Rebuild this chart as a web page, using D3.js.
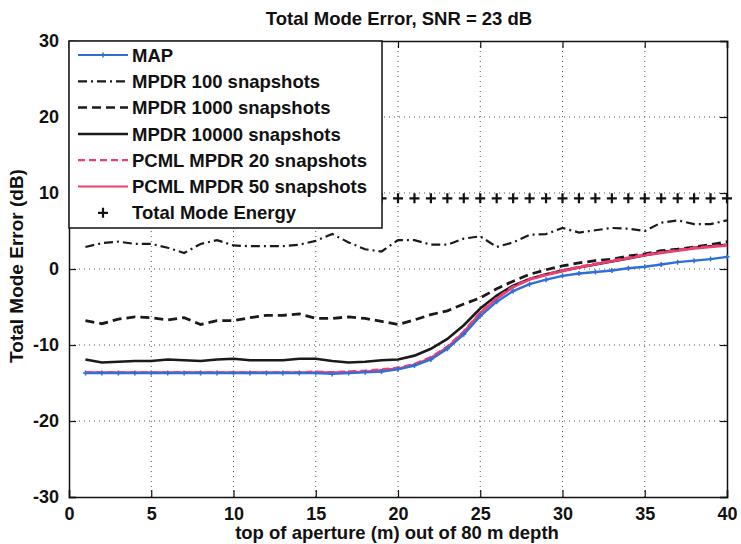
<!DOCTYPE html>
<html><head><meta charset="utf-8">
<script src="https://cdn.jsdelivr.net/npm/d3@7"></script>
<style>body{margin:0;background:#fff}svg{display:block}text{font-family:"Liberation Sans",Arial,sans-serif}</style>
</head><body><svg id="c" width="741" height="544"></svg>
<script>
const apertureTop = d3.range(1, 41);
const mapErr = [-13.7,-13.7,-13.7,-13.7,-13.7,-13.7,-13.7,-13.7,-13.7,-13.7,-13.7,-13.7,-13.7,-13.7,-13.7,-13.8,-13.7,-13.6,-13.5,-13.2,-12.7,-11.9,-10.5,-8.6,-6.2,-4.3,-2.9,-2.0,-1.4,-0.9,-0.6,-0.4,-0.2,0.1,0.3,0.6,0.9,1.1,1.3,1.6];
const mpdr100 = [2.9,3.4,3.6,3.3,3.3,2.8,2.1,3.3,3.8,3.1,3.0,3.0,3.0,3.2,3.7,4.6,3.5,2.6,2.3,3.8,3.8,3.2,3.2,4.0,4.3,2.9,3.5,4.5,4.6,5.4,4.8,5.1,5.4,5.3,5.0,6.1,6.4,5.9,5.9,6.4];
const mpdr1000 = [-6.8,-7.2,-6.6,-6.3,-6.4,-6.7,-6.4,-7.3,-6.8,-6.8,-6.4,-6.1,-6.1,-5.9,-6.5,-6.5,-6.3,-6.5,-6.9,-7.3,-6.7,-6.0,-5.5,-4.6,-3.8,-2.6,-1.6,-0.7,-0.1,0.4,0.8,1.1,1.3,1.7,2.0,2.4,2.6,2.9,3.2,3.6];
const mpdr10000 = [-11.9,-12.3,-12.2,-12.1,-12.1,-11.9,-12.0,-12.1,-11.9,-11.8,-12.0,-12.0,-12.0,-11.8,-11.8,-12.1,-12.3,-12.2,-12.0,-11.9,-11.4,-10.5,-9.2,-7.4,-5.2,-3.5,-2.2,-1.3,-0.7,-0.2,0.2,0.6,1.0,1.4,1.8,2.2,2.5,2.8,3.0,3.2];
const pcml20 = [-13.6,-13.6,-13.6,-13.6,-13.6,-13.6,-13.6,-13.6,-13.6,-13.6,-13.6,-13.6,-13.6,-13.6,-13.5,-13.6,-13.5,-13.4,-13.2,-13.0,-12.5,-11.6,-10.2,-8.2,-5.7,-3.8,-2.3,-1.3,-0.7,-0.2,0.3,0.7,1.1,1.5,1.9,2.2,2.5,2.8,3.0,3.2];
const pcml50 = [-13.6,-13.6,-13.6,-13.6,-13.6,-13.6,-13.6,-13.6,-13.6,-13.6,-13.6,-13.6,-13.6,-13.6,-13.6,-13.6,-13.6,-13.5,-13.3,-13.1,-12.6,-11.7,-10.3,-8.3,-5.8,-3.9,-2.4,-1.4,-0.8,-0.3,0.2,0.6,1.0,1.4,1.8,2.1,2.4,2.7,2.9,3.1];
const totalEnergy = Array(40).fill(9.3);
const xTicks = [0,5,10,15,20,25,30,35,40];
const yTicks = [-30,-20,-10,0,10,20,30];
const seriesNames = ["MAP","MPDR 100 snapshots","MPDR 1000 snapshots","MPDR 10000 snapshots","PCML MPDR 20 snapshots","PCML MPDR 50 snapshots","Total Mode Energy"];

const svg = d3.select("#c");
const L=69,R=727,T=41,B=497;
const x = d3.scaleLinear().domain([0,40]).range([L,R]);
const y = d3.scaleLinear().domain([-30,30]).range([B,T]);

// grid
const g = svg.append("g");
g.selectAll(".gx").data(xTicks.slice(1,-1)).join("line")
 .attr("x1",d=>x(d)).attr("x2",d=>x(d)).attr("y1",T).attr("y2",B)
 .attr("stroke","#555").attr("stroke-width",1).attr("stroke-dasharray","1,4");
g.selectAll(".gy").data(yTicks.slice(1,-1)).join("line")
 .attr("y1",d=>y(d)).attr("y2",d=>y(d)).attr("x1",L).attr("x2",R)
 .attr("stroke","#555").attr("stroke-width",1).attr("stroke-dasharray","1,4");

// axes
const fontT = "bold 18px 'Liberation Sans', Arial, sans-serif";
const fmt = d => String(d);
const ax = svg.append("g").attr("transform",`translate(0,${B})`)
 .call(d3.axisBottom(x).tickValues(xTicks).tickSize(-7).tickPadding(10).tickFormat(fmt));
const axT = svg.append("g").attr("transform",`translate(0,${T})`)
 .call(d3.axisTop(x).tickValues(xTicks).tickSize(-7).tickFormat(""));
const ay = svg.append("g").attr("transform",`translate(${L},0)`)
 .call(d3.axisLeft(y).tickValues(yTicks).tickSize(-7).tickPadding(10).tickFormat(fmt));
const ayR = svg.append("g").attr("transform",`translate(${R},0)`)
 .call(d3.axisRight(y).tickValues(yTicks).tickSize(-7).tickFormat(""));
[ax,axT,ay,ayR].forEach(a=>{a.select(".domain").attr("stroke","#111").attr("stroke-width",1.5);
 a.selectAll(".tick line").attr("stroke","#111").attr("stroke-width",1.2);
 a.selectAll("text").style("font",fontT).attr("fill","#111");});

// series
const line = d3.line().x((d,i)=>x(apertureTop[i])).y(d=>y(d));
const lines = [
 {v:mpdr100, c:"#1a1a1a", w:2.2, dash:"9,4,2,4"},
 {v:mpdr1000, c:"#1a1a1a", w:2.8, dash:"9,5"},
 {v:mpdr10000, c:"#1a1a1a", w:2.6, dash:null},
 {v:pcml50, c:"#e8406a", w:2.4, dash:null},
 {v:pcml20, c:"#f03c78", w:2.4, dash:"7,4"},
 {v:mapErr, c:"#2f6fd6", w:2.4, dash:null}
];
lines.forEach(s=>{
 svg.append("path").datum(s.v).attr("d",line).attr("fill","none")
  .attr("stroke",s.c).attr("stroke-width",s.w).attr("stroke-dasharray",s.dash);
});
// MAP markers
svg.selectAll(".mk").data(mapErr).join("path")
 .attr("d",(d,i)=>`M${x(apertureTop[i])-2.5},${y(d)}h5M${x(apertureTop[i])},${y(d)-2.5}v5`)
 .attr("stroke","#2f6fd6").attr("stroke-width",1.5);
// Total mode energy
svg.selectAll(".te").data(totalEnergy).join("path")
 .attr("d",(d,i)=>`M${x(apertureTop[i])-5},${y(d)}h10M${x(apertureTop[i])},${y(d)-5}v10`)
 .attr("stroke","#111").attr("stroke-width",2.2);

// legend
const lg = svg.append("g");
lg.append("rect").attr("x",L).attr("y",T).attr("width",313).attr("height",187)
 .attr("fill","#fff").attr("stroke","#111").attr("stroke-width",1.5);
const legStyles = [
 {c:"#2f6fd6",w:2,dash:null,mk:"map"},
 {c:"#1a1a1a",w:2.2,dash:"9,4,2,4"},
 {c:"#1a1a1a",w:2.5,dash:"9,5"},
 {c:"#1a1a1a",w:2.5,dash:null},
 {c:"#f03c78",w:2.2,dash:"7,4"},
 {c:"#e8406a",w:2,dash:null},
 {c:"#111",w:2.2,dash:null,mk:"plus"}
];
seriesNames.forEach((n,i)=>{
 const yy = 55 + i*26.3;
 const st = legStyles[i];
 if(st.mk!=="plus"){
  lg.append("line").attr("x1",78).attr("x2",128).attr("y1",yy).attr("y2",yy)
   .attr("stroke",st.c).attr("stroke-width",st.w).attr("stroke-dasharray",st.dash);
  if(st.mk==="map") lg.append("path").attr("d",`M100.5,${yy}h5M103,${yy-2.5}v5`).attr("stroke",st.c).attr("stroke-width",1.5);
 } else {
  lg.append("path").attr("d",`M98,${yy}h10M103,${yy-5}v10`).attr("stroke",st.c).attr("stroke-width",st.w);
 }
 lg.append("text").attr("x",132).attr("y",yy).attr("dy","0.36em").text(n)
  .style("font","bold 18.5px 'Liberation Sans', Arial, sans-serif").attr("fill","#111");
});

// titles
svg.append("text").attr("x",399).attr("y",25).attr("text-anchor","middle")
 .text("Total Mode Error, SNR = 23 dB").style("font","bold 18.5px 'Liberation Sans', Arial, sans-serif").attr("fill","#111");
svg.append("text").attr("x",397).attr("y",539).attr("text-anchor","middle")
 .text("top of aperture (m) out of 80 m depth").style("font","bold 18.5px 'Liberation Sans', Arial, sans-serif").attr("fill","#111");
svg.append("text").attr("transform","translate(23,266) rotate(-90)").attr("text-anchor","middle")
 .text("Total Mode Error (dB)").style("font","bold 19px 'Liberation Sans', Arial, sans-serif").attr("fill","#111");
</script></body></html>
